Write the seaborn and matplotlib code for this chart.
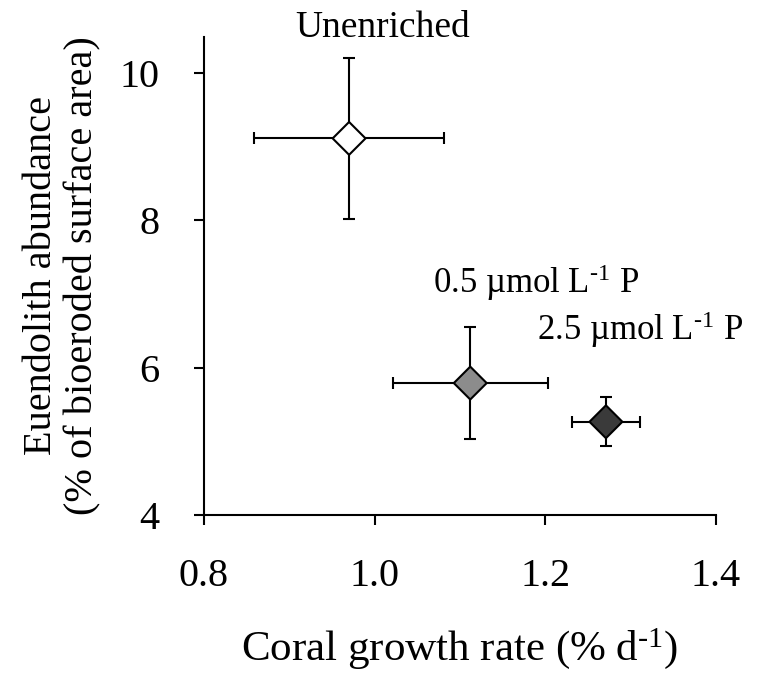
#!/usr/bin/env python3
"""
plot.py - Euendolith abundance vs coral growth rate under P enrichment.
"""

import pandas as pd
import matplotlib
matplotlib.use("Agg")
import matplotlib.pyplot as plt
import seaborn as sns

# Data (mean +/- error)
treatments = ['Unenriched', '0.5 µmol L$^{\\text{-}1}$ P', '2.5 µmol L$^{\\text{-}1}$ P']
growth = [0.97, 1.112, 1.271]
growth_err = [0.111, 0.091, 0.040]
abundance = [9.11, 5.79, 5.265]
abundance_err = [1.09, 0.76, 0.33]
colours = ['#ffffff', '#8c8c8c', '#3a3a3a']

x_ticks = [0.8, 1.0, 1.2, 1.4]
y_ticks = [4, 6, 8, 10]

# Set up style
sns.set_style("ticks")
plt.rcParams['font.family'] = ['Liberation Serif', 'DejaVu Serif']
plt.rcParams['mathtext.fontset'] = 'custom'
plt.rcParams['mathtext.rm'] = 'Liberation Serif'
plt.rcParams['mathtext.default'] = 'regular'
for key in ['text.color', 'axes.labelcolor', 'xtick.color', 'ytick.color', 'axes.edgecolor']:
    plt.rcParams[key] = 'black'

df = pd.DataFrame({
    'treatment': treatments,
    'growth': growth,
    'growth_err': growth_err,
    'abundance': abundance,
    'abundance_err': abundance_err,
})

fig = plt.figure(figsize=(7.63, 6.77), dpi=100)
ax = fig.add_axes([0.2674, 0.2393, 0.6710, 0.7065])

# error bars first, markers on top
ax.errorbar(df['growth'], df['abundance'], xerr=df['growth_err'], yerr=df['abundance_err'],
            fmt='none', ecolor='black', elinewidth=1.5, capsize=4, capthick=1.5, zorder=2)
sns.scatterplot(data=df, x='growth', y='abundance', hue='treatment',
                palette=dict(zip(treatments, colours)), marker='D', s=280,
                edgecolor='black', linewidth=1.5, legend=False, zorder=3, ax=ax)

# labels next to each point
label_pos = [(1.009, 10.61), (1.189, 7.15), (1.311, 6.51)]
label_size = [27, 25, 25]
for name, (lx, ly), fs in zip(treatments, label_pos, label_size):
    ax.text(lx, ly, name, fontsize=fs, ha='center', va='center', clip_on=False)

ax.set_xlim(0.8, 1.4)
ax.set_ylim(4, 10.49)
ax.set_xticks(x_ticks)
ax.set_xticklabels([f"{t:.1f}" for t in x_ticks])
ax.set_yticks(y_ticks)
ax.set_yticklabels([str(t) for t in y_ticks])
ax.tick_params(direction='out', length=7, width=1.5, labelsize=29)
ax.tick_params(axis='x', pad=24)
ax.tick_params(axis='y', pad=25)
for side in ['left', 'bottom']:
    ax.spines[side].set_linewidth(1.5)
sns.despine(ax=ax)

ax.set_xlabel('Coral growth rate (% d$^{\\text{-}1}$)', fontsize=31, labelpad=22)
ax.set_ylabel('Euendolith abundance\n(% of bioeroded surface area)', fontsize=29,
              labelpad=13, linespacing=1.15)

fig.savefig('out.png', dpi=100)
